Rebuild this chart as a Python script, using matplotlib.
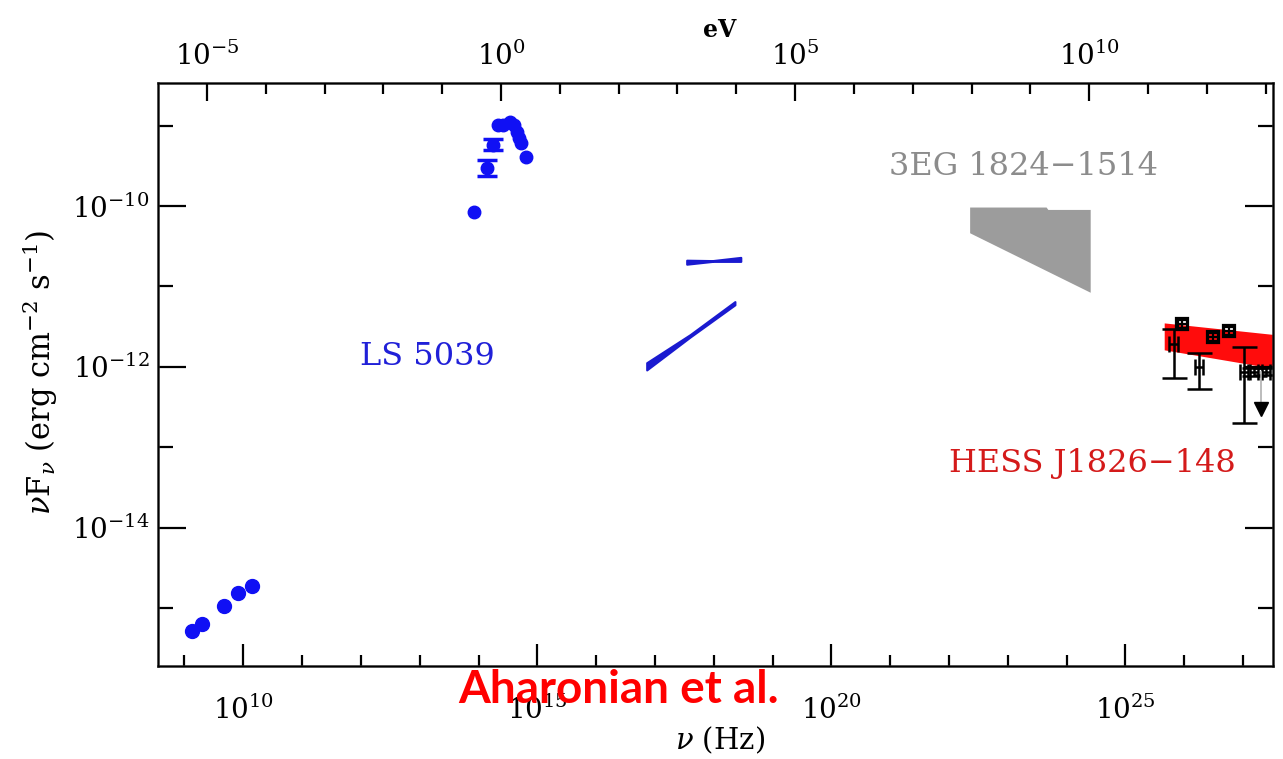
import numpy as np
import matplotlib
matplotlib.use("Agg")
import matplotlib.pyplot as plt
from matplotlib.ticker import FixedLocator, FuncFormatter, NullFormatter

plt.rcParams['font.family'] = ['DejaVu Serif']
plt.rcParams['mathtext.fontset'] = 'dejavuserif'

H_EV = 4.135667e-15  # Planck constant in eV s

# ---- LS 5039: radio (log10 nu [Hz], log10 nuFnu [erg cm^-2 s^-1]) ----
radio_lognu = [9.13, 9.30, 9.67, 9.91, 10.155]
radio_logf = [-15.29, -15.20, -14.98, -14.82, -14.73]

# ---- LS 5039: optical / IR ----
opt_lognu = [13.92, 14.14, 14.24, 14.33, 14.41, 14.53, 14.61, 14.65, 14.69, 14.73, 14.81]
opt_logf = [-10.07, -9.53, -9.24, -8.99, -8.99, -8.96, -8.99, -9.08, -9.16, -9.22, -9.39]
opt_logerr = [0.0, 0.10, 0.07, 0.0, 0.0, 0.0, 0.0, 0.0, 0.0, 0.0, 0.0]

# ---- LS 5039: X-ray spectra (bow-ties: nu, lower, upper) ----
xflat_lognu = [17.54, 17.98, 18.46]
xflat_lo = [-10.725, -10.69, -10.69]
xflat_hi = [-10.675, -10.68, -10.64]

xslope_lognu = [16.86, 17.60, 18.36]
xslope_lo = [-12.04, -11.63, -11.23]
xslope_hi = [-11.95, -11.60, -11.19]

# ---- 3EG 1824-1514 (EGRET error region) ----
egret_lognu = [22.36, 23.66, 23.69, 24.41, 24.41, 22.36]
egret_logf = [-10.02, -10.02, -10.05, -10.05, -11.08, -10.34]

# ---- HESS J1826-148: fitted power-law band ----
hess_band_lognu = [25.66, 27.60]
hess_band_lo = [-11.79, -12.03]
hess_band_hi = [-11.455, -11.605]

# ---- HESS J1826-148: flux points (squares) ----
hess_sq_lognu = [25.97, 26.49, 26.76]
hess_sq_logf = [-11.47, -11.63, -11.56]
hess_sq_logerr = [0.05, 0.05, 0.05]

# ---- HESS J1826-148: flux points (crosses) ----
hess_pt_lognu = [25.82, 26.25, 27.02, 27.19, 27.39]
hess_pt_logf = [-11.72, -12.00, -12.06, -12.06, -12.06]
hess_pt_lo = [-12.14, -12.28, -12.70, -12.11, -12.10]
hess_pt_hi = [-11.535, -11.83, -11.75, -12.01, -12.02]

# ---- HESS J1826-148: upper limit ----
hess_ul_lognu = [27.30]
hess_ul_logf = [-12.06]
hess_ul_logarrow = [-12.53]

# axis ranges (log10)
x_range = (8.55, 27.51)
y_range = (-15.716, -8.465)
hz_major = [10, 15, 20, 25]
ev_major = [-5, 0, 5, 10]
y_major = [-14, -12, -10]

W, H = 1283, 759
fig = plt.figure(figsize=(W / 100, H / 100), dpi=100)
ax = fig.add_axes([158 / W, 1 - 665.5 / H, (1273 - 158) / W, (665.5 - 82.5) / H])
ax.set_xscale('log')
ax.set_yscale('log')
ax.set_xlim(10 ** x_range[0], 10 ** x_range[1])
ax.set_ylim(10 ** y_range[0], 10 ** y_range[1])

p = lambda a: 10 ** np.asarray(a, dtype=float)

blue = '#1010f4'
# radio
ax.plot(p(radio_lognu), p(radio_logf), 'o', color=blue, ms=10, mec=blue)
# optical: markers, then error bars where the error is resolved
onu = np.asarray(opt_lognu)
ologf = np.asarray(opt_logf)
oerr = np.asarray(opt_logerr)
ax.plot(p(onu), p(ologf), 'o', color=blue, ms=9, mec=blue)
has_err = oerr > 0
ax.errorbar(p(onu[has_err]), p(ologf[has_err]),
            yerr=[p(ologf[has_err]) - p(ologf[has_err] - oerr[has_err]),
                  p(ologf[has_err] + oerr[has_err]) - p(ologf[has_err])],
            fmt='none', color=blue, capsize=7, elinewidth=2.5, capthick=2.5)
# X-ray bow-ties
ax.fill_between(p(xflat_lognu), p(xflat_lo), p(xflat_hi), color='#1a1ad0', lw=1.5,
                edgecolor='#1a1ad0')
ax.fill_between(p(xslope_lognu), p(xslope_lo), p(xslope_hi), color='#1a1ad0', lw=1.5,
                edgecolor='#1a1ad0')

# EGRET region
ax.fill(p(egret_lognu), p(egret_logf), color='#9c9c9c', lw=0)

# HESS band
ax.fill_between(p(hess_band_lognu), p(hess_band_lo), p(hess_band_hi), color='#ff0c0c', lw=0)

# HESS points
sq_nu = np.asarray(hess_sq_lognu)
sq_f = np.asarray(hess_sq_logf)
sq_e = np.asarray(hess_sq_logerr)
ax.errorbar(p(sq_nu), p(sq_f),
            yerr=[p(sq_f) - p(sq_f - sq_e), p(sq_f + sq_e) - p(sq_f)],
            xerr=[p(sq_nu) - p(sq_nu - 0.08), p(sq_nu + 0.08) - p(sq_nu)],
            fmt='s', ms=9, mfc='none', mec='black', color='black', capsize=4, lw=1.6, mew=1.6)
pt_nu = np.asarray(hess_pt_lognu)
pt_f = np.asarray(hess_pt_logf)
ax.errorbar(p(pt_nu), p(pt_f),
            yerr=[p(pt_f) - p(hess_pt_lo), p(hess_pt_hi) - p(pt_f)],
            fmt='none', color='black', capsize=9, lw=1.8, capthick=1.8)
ax.errorbar(p(pt_nu), p(pt_f),
            xerr=[p(pt_nu) - p(pt_nu - 0.07), p(pt_nu + 0.07) - p(pt_nu)],
            fmt='none', color='black', capsize=6, lw=1.8, capthick=1.8)
# upper limit
ax.plot([p(hess_ul_lognu)[0]] * 2, [p(hess_ul_logf)[0], p(hess_ul_logarrow)[0]],
        color='#b0b0b0', lw=1.2)
ax.plot(p(hess_ul_lognu), p(hess_ul_logarrow), 'v', color='black', ms=10)

# labels inside the plot
ax.text(10 ** 13.13, 10 ** -11.87, 'LS 5039', color='#2020d8', fontsize=23,
        ha='center', va='center')
ax.text(10 ** 23.27, 10 ** -9.51, '3EG 1824\u22121514', color='#8c8c8c', fontsize=23,
        ha='center', va='center')
ax.text(10 ** 24.44, 10 ** -13.20, 'HESS J1826\u2212148', color='#d41a1a', fontsize=23,
        ha='center', va='center')

# bottom axis: frequency
fmt = FuncFormatter(lambda v, pos: r'$10^{%d}$' % int(round(np.log10(v))))
ax.xaxis.set_major_locator(FixedLocator(p(hz_major)))
ax.xaxis.set_minor_locator(FixedLocator(p(np.arange(9, 28))))
ax.xaxis.set_major_formatter(fmt)
ax.xaxis.set_minor_formatter(NullFormatter())
ax.yaxis.set_major_locator(FixedLocator(p(y_major)))
ax.yaxis.set_minor_locator(FixedLocator(p(np.arange(-16, -8))))
ax.yaxis.set_major_formatter(fmt)
ax.yaxis.set_minor_formatter(NullFormatter())
ax.tick_params(axis='both', which='both', direction='in', width=1.6, labelsize=20)
ax.tick_params(axis='x', which='major', length=16, top=False, pad=22)
ax.tick_params(axis='x', which='minor', length=8, top=False)
ax.tick_params(axis='y', which='major', length=20, right=True, pad=6)
ax.tick_params(axis='y', which='minor', length=11, right=True)
for s in ax.spines.values():
    s.set_linewidth(1.8)
    s.set_color('#222222')

# top axis: photon energy
ax2 = ax.twiny()
ax2.set_xscale('log')
ax2.set_xlim(10 ** x_range[0] * H_EV, 10 ** x_range[1] * H_EV)
ax2.xaxis.set_major_locator(FixedLocator(p(ev_major)))
ax2.xaxis.set_minor_locator(FixedLocator(p(np.arange(-6, 14))))
ax2.xaxis.set_major_formatter(fmt)
ax2.xaxis.set_minor_formatter(NullFormatter())
ax2.tick_params(axis='x', which='both', direction='in', width=1.6, labelsize=20)
ax2.tick_params(axis='x', which='major', length=13, pad=8)
ax2.tick_params(axis='x', which='minor', length=8)

fig.text(720 / W, 1 - 30 / H, 'eV', fontsize=17, fontweight='bold', ha='center', va='center')
fig.text(720 / W, 1 - 740 / H, r'$\nu$ (Hz)', fontsize=21, ha='center', va='center')
fig.text(40 / W, 1 - 372 / H, r'$\nu$F$_\nu$ (erg cm$^{-2}$ s$^{-1}$)', fontsize=22,
         rotation=90, ha='center', va='center')
fig.text(619 / W, 1 - 690 / H, 'Aharonian et al.', fontsize=33, fontweight='bold',
         color='#ff0000', family=['Lato', 'DejaVu Sans'], ha='center', va='center')

fig.savefig('out.png', dpi=100)
